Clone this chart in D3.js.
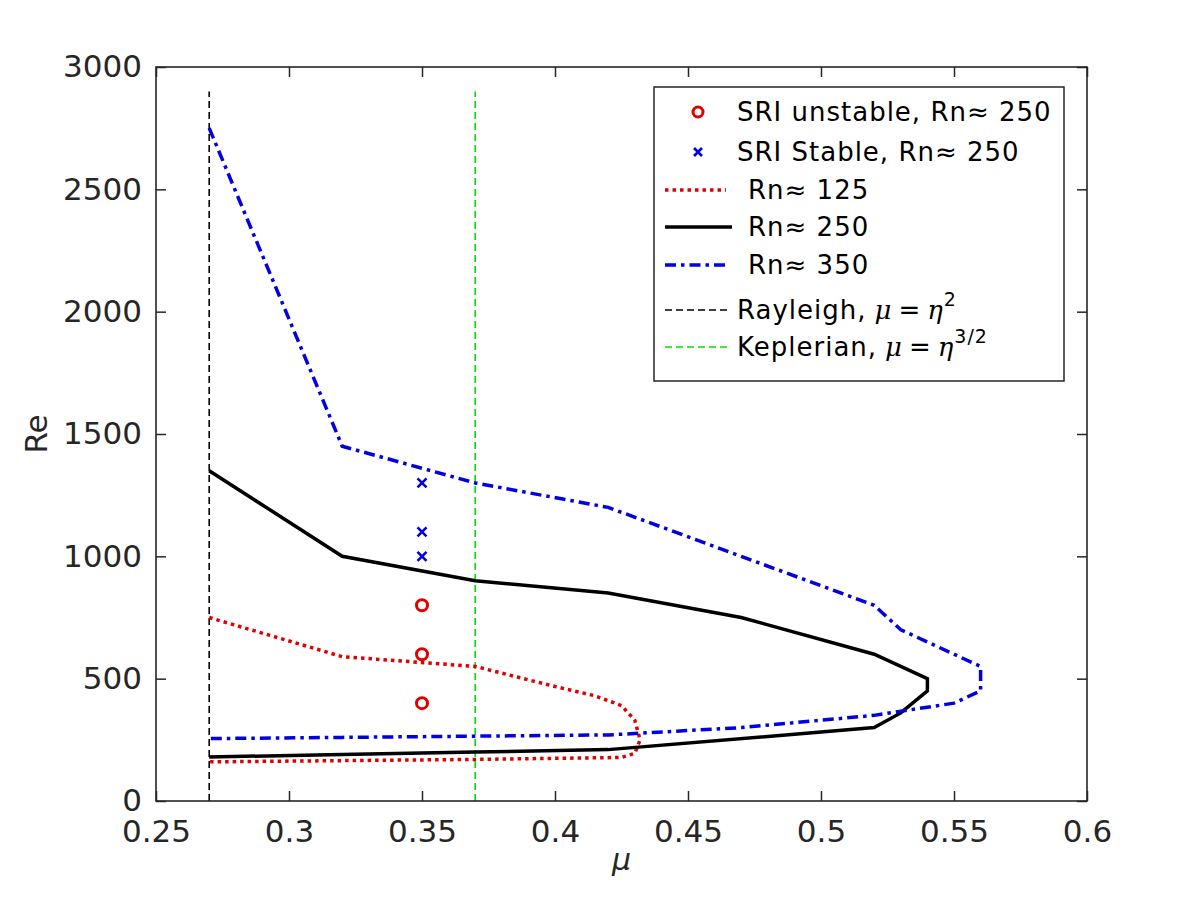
<!DOCTYPE html>
<html><head><meta charset="utf-8">
<script src="https://cdn.jsdelivr.net/npm/d3@7"></script>
<style>body{margin:0;background:#fff}</style>
</head><body>
<svg id="chart" width="1200" height="900"></svg>
<script>
const xTicks = [0.25,0.3,0.35,0.4,0.45,0.5,0.55,0.6];
const yTicks = [0,500,1000,1500,2000,2500,3000];

const muRn125 = [0.27,0.32,0.37,0.40,0.415,0.425,0.43,0.432,0.43,0.425,0.37,0.32,0.27];
const reRn125 = [750,590,550,468,430,390,330,250,195,178,170,165,160];

const muRn250 = [0.27,0.32,0.37,0.42,0.47,0.52,0.54,0.54,0.53,0.52,0.42,0.37,0.32,0.27];
const reRn250 = [1350,1000,900,850,750,600,500,450,360,300,210,200,190,180];

const muRn350 = [0.27,0.32,0.37,0.42,0.47,0.52,0.53,0.56,0.56,0.55,0.52,0.47,0.42,0.37,0.32,0.27];
const reRn350 = [2750,1450,1300,1200,1000,800,700,550,450,400,350,300,270,265,260,255];

const muUnstable = [0.35,0.35,0.35];
const reUnstable = [400,600,800];
const muStable = [0.35,0.35,0.35];
const reStable = [1000,1100,1300];

const muRayleigh = [0.27,0.27];
const reRayleigh = [0,2900];
const muKepler = [0.37,0.37];
const reKepler = [0,2900];

const svg = d3.select("#chart");
const L=156, R=1087, T=67, B=801;
const x = d3.scaleLinear().domain([0.25,0.6]).range([L,R]);
const y = d3.scaleLinear().domain([0,3000]).range([B,T]);
const axisColor = "#262626";
const font = "DejaVu Sans, sans-serif";

const line = d3.line().x(d=>x(d[0])).y(d=>y(d[1]));
function zip(a,b){return a.map((v,i)=>[v,b[i]]);}

const g = svg.append("g");
g.append("path").datum(zip(muRayleigh,reRayleigh)).attr("d",line)
  .attr("fill","none").attr("stroke","#000").attr("stroke-width",1.6).attr("stroke-dasharray","7,4");
g.append("path").datum(zip(muKepler,reKepler)).attr("d",line)
  .attr("fill","none").attr("stroke","#00e000").attr("stroke-width",1.6).attr("stroke-dasharray","7,4");

g.append("path").datum(zip(muRn125,reRn125)).attr("d",line)
  .attr("fill","none").attr("stroke","#e00000").attr("stroke-width",3.5).attr("stroke-dasharray","3.5,4");
g.append("path").datum(zip(muRn250,reRn250)).attr("d",line)
  .attr("fill","none").attr("stroke","#000").attr("stroke-width",3.5);
g.append("path").datum(zip(muRn350,reRn350)).attr("d",line)
  .attr("fill","none").attr("stroke","#0000e0").attr("stroke-width",3.5).attr("stroke-dasharray","11,5,3.5,5");

g.selectAll("circle.u").data(zip(muUnstable,reUnstable)).enter().append("circle")
  .attr("cx",d=>x(d[0])).attr("cy",d=>y(d[1])).attr("r",5.5)
  .attr("fill","none").attr("stroke","#e00000").attr("stroke-width",3);

const cross = (sel,cx,cy,s)=>{
  sel.append("path").attr("d",`M${cx-s},${cy-s}L${cx+s},${cy+s}M${cx-s},${cy+s}L${cx+s},${cy-s}`)
    .attr("stroke","#0000e0").attr("stroke-width",2.6).attr("fill","none");
};
zip(muStable,reStable).forEach(d=>cross(g,x(d[0]),y(d[1]),4.5));

svg.append("rect").attr("x",L).attr("y",T).attr("width",R-L).attr("height",B-T)
  .attr("fill","none").attr("stroke",axisColor).attr("stroke-width",1.6);

const xAxisB = d3.axisBottom(x).tickValues(xTicks).tickSize(-10).tickPadding(19).tickFormat(d=>String(+d.toFixed(2)));
const xAxisT = d3.axisTop(x).tickValues(xTicks).tickSize(-10).tickFormat("");
const yAxisL = d3.axisLeft(y).tickValues(yTicks).tickSize(-10).tickPadding(14).tickFormat(d3.format("d"));
const yAxisR = d3.axisRight(y).tickValues(yTicks).tickSize(-10).tickFormat("");

function style(sel){
  sel.select(".domain").remove();
  sel.selectAll("line").attr("stroke",axisColor).attr("stroke-width",1.5);
  sel.selectAll("text").attr("fill",axisColor).style("font-family",font).style("font-size","31px");
}
svg.append("g").attr("transform",`translate(0,${B})`).call(xAxisB).call(style);
svg.append("g").attr("transform",`translate(0,${T})`).call(xAxisT).call(style);
svg.append("g").attr("transform",`translate(${L},0)`).call(yAxisL).call(style);
svg.append("g").attr("transform",`translate(${R},0)`).call(yAxisR).call(style);

svg.append("text").attr("x",(L+R)/2).attr("y",870).attr("text-anchor","middle")
  .style("font-family",font).style("font-size","30px").style("font-style","italic").attr("fill",axisColor).text("μ");
svg.append("text").attr("transform","translate(47,434) rotate(-90)").attr("text-anchor","middle")
  .style("font-family",font).style("font-size","31px").attr("fill",axisColor).text("Re");

const lg = svg.append("g");
lg.append("rect").attr("x",654).attr("y",87).attr("width",410).attr("height",294)
  .attr("fill","#fff").attr("stroke",axisColor).attr("stroke-width",1.5);
const rows = [112,152,190,227,265,310,347];
const lx0=665, lx1=730, tx=737, tx2=748;
function ltext(yy, xx){ return lg.append("text").attr("x",xx).attr("y",yy+9)
  .style("font-family",font).style("font-size","26px").style("letter-spacing","1px").attr("fill","#000"); }

lg.append("circle").attr("cx",698).attr("cy",rows[0]).attr("r",5).attr("fill","none")
  .attr("stroke","#e00000").attr("stroke-width",3);
ltext(rows[0],tx).text("SRI unstable, Rn≈ 250");
cross(lg,698,rows[1],4);
ltext(rows[1],tx).text("SRI Stable, Rn≈ 250");

lg.append("line").attr("x1",lx0).attr("x2",lx1-4).attr("y1",rows[2]).attr("y2",rows[2])
  .attr("stroke","#e00000").attr("stroke-width",3.5).attr("stroke-dasharray","3.5,4");
ltext(rows[2],tx2).text("Rn≈ 125");
lg.append("line").attr("x1",lx0).attr("x2",lx1+2).attr("y1",rows[3]).attr("y2",rows[3])
  .attr("stroke","#000").attr("stroke-width",3.5);
ltext(rows[3],tx2).text("Rn≈ 250");
lg.append("line").attr("x1",lx0).attr("x2",lx1-3).attr("y1",rows[4]).attr("y2",rows[4])
  .attr("stroke","#0000e0").attr("stroke-width",3.5).attr("stroke-dasharray","11,5,3.5,5");
ltext(rows[4],tx2).text("Rn≈ 350");

lg.append("line").attr("x1",lx0).attr("x2",lx1).attr("y1",rows[5]).attr("y2",rows[5])
  .attr("stroke","#000").attr("stroke-width",1.6).attr("stroke-dasharray","7,4");
let t = ltext(rows[5],tx);
t.append("tspan").text("Rayleigh,");
t.append("tspan").attr("dx",8).style("font-style","italic").style("font-family","DejaVu Serif, serif").text("μ");
t.append("tspan").attr("dx",6).text("=");
t.append("tspan").attr("dx",6).style("font-style","italic").style("font-family","DejaVu Serif, serif").text("η");
t.append("tspan").attr("dy",-13).style("font-size","19px").text("2");

lg.append("line").attr("x1",lx0).attr("x2",lx1).attr("y1",rows[6]).attr("y2",rows[6])
  .attr("stroke","#00e000").attr("stroke-width",1.6).attr("stroke-dasharray","7,4");
t = ltext(rows[6],tx);
t.append("tspan").text("Keplerian,");
t.append("tspan").attr("dx",8).style("font-style","italic").style("font-family","DejaVu Serif, serif").text("μ");
t.append("tspan").attr("dx",6).text("=");
t.append("tspan").attr("dx",6).style("font-style","italic").style("font-family","DejaVu Serif, serif").text("η");
t.append("tspan").attr("dy",-13).style("font-size","19px").text("3/2");
</script>
</body></html>
